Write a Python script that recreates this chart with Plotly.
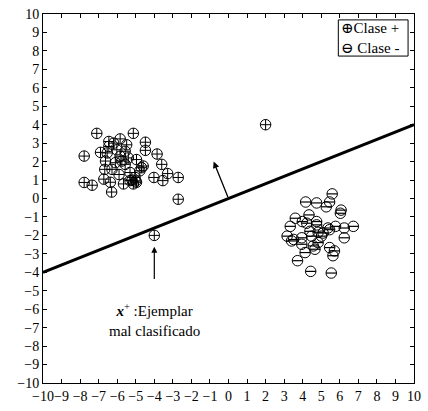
import plotly.graph_objects as go

# Class + samples (cluster on the upper-left)
pos_x = [-7.1, -5.13, -7.78, -7.78, -7.35, -6.3, -2.71, -2.71, -3.28, -3.54,
         -4.02, -3.6, -3.85, -4.48, -4.48, -4.6, -4.96, -5.57, -5.84, -6.45,
         -6.19, -6.54, -6.63, -6.67, -6.28, -6.72, -6.37, -5.66, -5.31, -5.13,
         -4.96, -5.04, -5.31, -5.57, -5.84, -6.02, -5.4, -4.78, -4.69, -5.75,
         -5.49, -6.1, -6.45, -5.2, -5.9, -6.9, -5.0]
pos_y = [3.53, 3.53, 2.3, 0.87, 0.72, 0.35, -0.04, 1.14, 1.35, 0.97,
         1.14, 1.85, 2.41, 3.05, 2.61, 1.76, 2.11, 2.56, 3.23, 3.09,
         3.0, 2.47, 2.03, 1.58, 1.58, 1.05, 0.88, 0.79, 0.97, 0.79,
         0.88, 1.14, 1.41, 1.85, 2.29, 2.64, 2.2, 1.5, 1.67, 2.03,
         2.91, 1.94, 2.82, 1.0, 1.3, 2.5, 0.95]

# Misclassified / isolated class + samples
out_x = [2.0, -4.0]
out_y = [4.0, -2.0]

# Class - samples (cluster on the lower-right)
neg_x = [5.59, 4.16, 4.75, 5.27, 5.45, 6.07, 6.03, 3.6, 4.34, 3.98,
         3.33, 4.75, 5.77, 6.24, 6.73, 5.36, 3.16, 3.51, 3.95, 4.48,
         5.01, 6.24, 4.39, 4.83, 5.45, 3.95, 4.57, 4.66, 4.13, 5.45,
         5.71, 5.63, 3.72, 4.43, 5.54, 4.75, 4.22, 5.1, 4.83, 3.4]
neg_y = [0.25, -0.19, -0.24, -0.45, -0.19, -0.63, -0.8, -1.07, -0.89, -1.25,
         -1.51, -1.25, -1.51, -1.6, -1.51, -1.6, -2.04, -2.22, -2.13, -2.04,
         -2.04, -2.13, -1.78, -1.83, -1.69, -2.48, -2.57, -2.75, -2.93, -2.66,
         -2.84, -3.1, -3.37, -3.95, -4.04, -1.43, -1.34, -1.87, -2.39, -2.3]

# Decision boundary and its normal vector
boundary_x = [-10, 10]
boundary_y = [-4, 4]
normal_tip = (-0.8, 2.0)

ticks = list(range(-10, 11))
FONT = '"Liberation Serif", "DejaVu Serif", serif'
MS = 10.5

fig = go.Figure()

fig.add_trace(go.Scatter(
    x=boundary_x, y=boundary_y, mode="lines",
    line=dict(color="black", width=3), showlegend=False, hoverinfo="skip"))

fig.add_trace(go.Scatter(
    x=pos_x + out_x, y=pos_y + out_y, mode="markers", name="Clase +",
    marker=dict(symbol="circle-cross-open", size=MS, color="black",
                line=dict(width=1, color="black")),
    showlegend=False))

fig.add_trace(go.Scatter(
    x=neg_x, y=neg_y, mode="markers", name="Clase -",
    marker=dict(symbol="circle-open", size=MS, color="black",
                line=dict(width=1, color="black")),
    showlegend=False))
fig.add_trace(go.Scatter(
    x=neg_x, y=neg_y, mode="markers", hoverinfo="skip",
    marker=dict(symbol="line-ew-open", size=MS * 0.71, color="black",
                line=dict(width=1.2, color="black")),
    showlegend=False))

# normal vector w
fig.add_annotation(x=normal_tip[0], y=normal_tip[1], ax=0, ay=0,
                   xref="x", yref="y", axref="x", ayref="y", text="",
                   showarrow=True, arrowhead=2, arrowsize=1, arrowwidth=1.3,
                   arrowcolor="black")

# pointer to the misclassified sample
fig.add_annotation(x=-4, y=-2.62, ax=-4, ay=-4.45,
                   xref="x", yref="y", axref="x", ayref="y", text="",
                   showarrow=True, arrowhead=2, arrowsize=1, arrowwidth=1.2,
                   arrowcolor="black")
fig.add_annotation(x=-4, y=-6.58, xref="x", yref="y", showarrow=False,
                   text="<b><i>x</i></b><sup>+</sup> :Ejemplar<br>mal clasificado",
                   font=dict(family=FONT, size=15, color="black"),
                   align="center")

# legend box
fig.add_shape(type="rect", xref="paper", yref="paper",
              x0=0.796, x1=0.984, y0=0.886, y1=0.984,
              line=dict(color="black", width=1), fillcolor="white")
fig.add_annotation(x=0.797, y=0.935, xref="paper", yref="paper",
                   xanchor="left", yanchor="middle", showarrow=False,
                   text="⊕Clase +<br>⊖ Clase -", align="left",
                   font=dict(family=FONT, size=15, color="black"))

axis_common = dict(
    range=[-10, 10], tickmode="array", tickvals=ticks,
    showgrid=False, zeroline=False, showline=True, linecolor="black",
    linewidth=1, mirror="ticks", ticks="inside", ticklen=4,
    tickcolor="black", tickwidth=1, tickangle=0,
    tickfont=dict(family=FONT, size=14, color="black"),
)

fig.update_layout(
    width=428, height=411,
    margin=dict(l=43, r=7, t=12, b=21),
    paper_bgcolor="white", plot_bgcolor="white",
    font=dict(family=FONT, color="black"),
    xaxis=dict(**axis_common),
    yaxis=dict(**axis_common),
)

fig.write_html("out.html")
